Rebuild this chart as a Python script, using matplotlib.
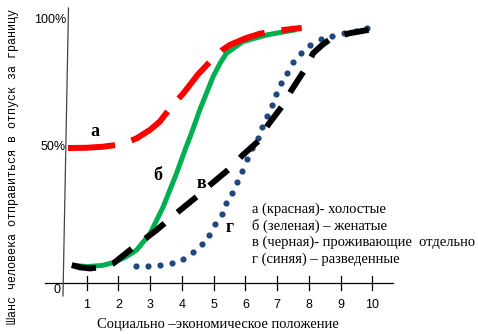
import matplotlib
matplotlib.use("Agg")
import matplotlib.pyplot as plt

# --- data ---
x_ticks = [1, 2, 3, 4, 5, 6, 7, 8, 9, 10]

# а - холостые (red)
red_x = [0.41, 1.0, 1.5, 1.94, 2.3, 2.57, 3.0, 3.3, 3.62, 4.04, 4.5, 4.98, 5.25, 5.51, 6.0, 6.45, 7.0, 7.77]
red_y = [49.6, 49.7, 50.1, 50.8, 52.0, 53.4, 56.8, 60.0, 65.2, 71.1, 78.5, 84.9, 88.0, 90.2, 92.8, 94.6, 95.8, 96.9]

# б - женатые (green)
green_x = [0.53, 1.0, 1.5, 1.84, 2.2, 2.57, 3.0, 3.41, 3.83, 4.1, 4.3, 4.56, 4.98, 5.2, 5.4, 5.92, 6.66, 7.6]
green_y = [3.5, 2.9, 3.4, 4.5, 6.5, 9.4, 16.0, 26.5, 39.7, 49.0, 55.5, 64.6, 77.7, 83.0, 86.9, 91.5, 94.1, 96.2]

# в - проживающие отдельно (black)
black_x = [0.53, 0.8, 1.1, 1.4, 1.84, 2.36, 2.8, 3.2, 3.88, 4.46, 4.88, 5.51, 5.92, 6.45, 6.71, 7.18,
           7.45, 7.86, 8.13, 8.4, 8.7, 9.28, 9.96]
black_y = [3.5, 2.6, 2.2, 2.6, 4.2, 9.4, 13.5, 17.3, 24.5, 30.4, 35.0, 41.6, 46.9, 52.8, 58.7, 66.5,
           72.4, 80.3, 86.9, 90.0, 92.8, 94.8, 96.3]

# г - разведенные (blue dots)
blue_x = [2.551, 2.920, 3.298, 3.676, 4.031, 4.356, 4.639, 4.860, 5.049, 5.250, 5.395, 5.565, 5.732,
          5.890, 6.038, 6.205, 6.384, 6.529, 6.677, 6.825, 6.970, 7.128, 7.298, 7.496, 7.739, 8.031,
          8.368, 8.734, 9.093, 9.465, 9.836]
blue_y = [3.27, 3.27, 3.54, 4.21, 6.02, 8.66, 11.69, 15.35, 19.69, 23.74, 27.95, 32.01, 36.22,
          40.67, 45.16, 49.61, 53.66, 57.87, 62.20, 66.42, 70.98, 75.20, 79.25, 83.35, 87.13, 90.16,
          92.40, 93.70, 94.76, 95.67, 96.73]

legend_lines = [
    "а (красная)- холостые",
    "б (зеленая) – женатые",
    "в (черная)- проживающие  отдельно",
    "г (синяя) – разведенные",
]

SERIF = ["Liberation Serif", "DejaVu Serif"]
SANS = ["Liberation Sans", "DejaVu Sans"]
MONO = ["Liberation Mono", "DejaVu Sans Mono"]

fig = plt.figure(figsize=(4.78, 3.34), dpi=100)
ax = fig.add_axes([0, 0, 1, 1])
ax.set_xlim(-1.732, 13.323)
ax.set_ylim(-23.62, 107.87)
ax.axis("off")

# axes (hand drawn: y axis slightly slanted)
ax.plot([-0.315, 10.646], [-3.54, -3.54], color="black", lw=0.9, zorder=1)
ax.plot([0.425, 0.252], [104.7, -8.66], color="#444444", lw=0.9, zorder=1)
for t in x_ticks:
    ax.plot([t, t], [-0.8, -6.3], color="black", lw=0.9, zorder=1)
    ax.text(t, -12.2, str(t), ha="center", va="center", fontsize=9, family=SANS)

ax.text(0.346, 100, "100%", ha="right", va="center", fontsize=9, family=SANS)
ax.text(0.346, 50, "50%", ha="right", va="center", fontsize=9, family=SANS)
ax.text(0.063, -6.3, "0", ha="center", va="center", fontsize=9, family=SANS)

# curves
ax.plot(green_x, green_y, color="#00B050", lw=3.6, solid_capstyle="butt", zorder=2)
ax.plot(red_x, red_y, color="#FF0000", lw=4.3, linestyle=(0, (7.9, 2.85)), zorder=3)
ax.scatter(blue_x, blue_y, s=20, color="#1F497D", linewidths=0, zorder=3)
ax.plot(black_x, black_y, color="black", lw=4.3, linestyle=(0, (4.1, 2.85)), zorder=4)

# curve letters
for s, (lx, ly) in zip(["а", "б", "в", "г"], [(1.26, 56.0), (3.25, 38.6), (4.60, 35.7), (5.49, 18.2)]):
    ax.text(lx, ly, s, ha="center", va="center", fontsize=13, fontweight="bold", family=SERIF)

# legend block
for i, line in enumerate(legend_lines):
    ax.text(6.205, 25.6 - i * 6.55, line, ha="left", va="center", fontsize=10.5, family=SERIF)

ax.text(5.13, -19.7, "Социально –экономическое положение", ha="center", va="center",
        fontsize=10.5, family=SERIF)
ax.text(-1.323, 42.5, "Шанс человека отправиться в отпуск за границу", ha="center", va="center",
        rotation=90, fontsize=8.5, family=MONO)

fig.savefig("out.png", dpi=100)
